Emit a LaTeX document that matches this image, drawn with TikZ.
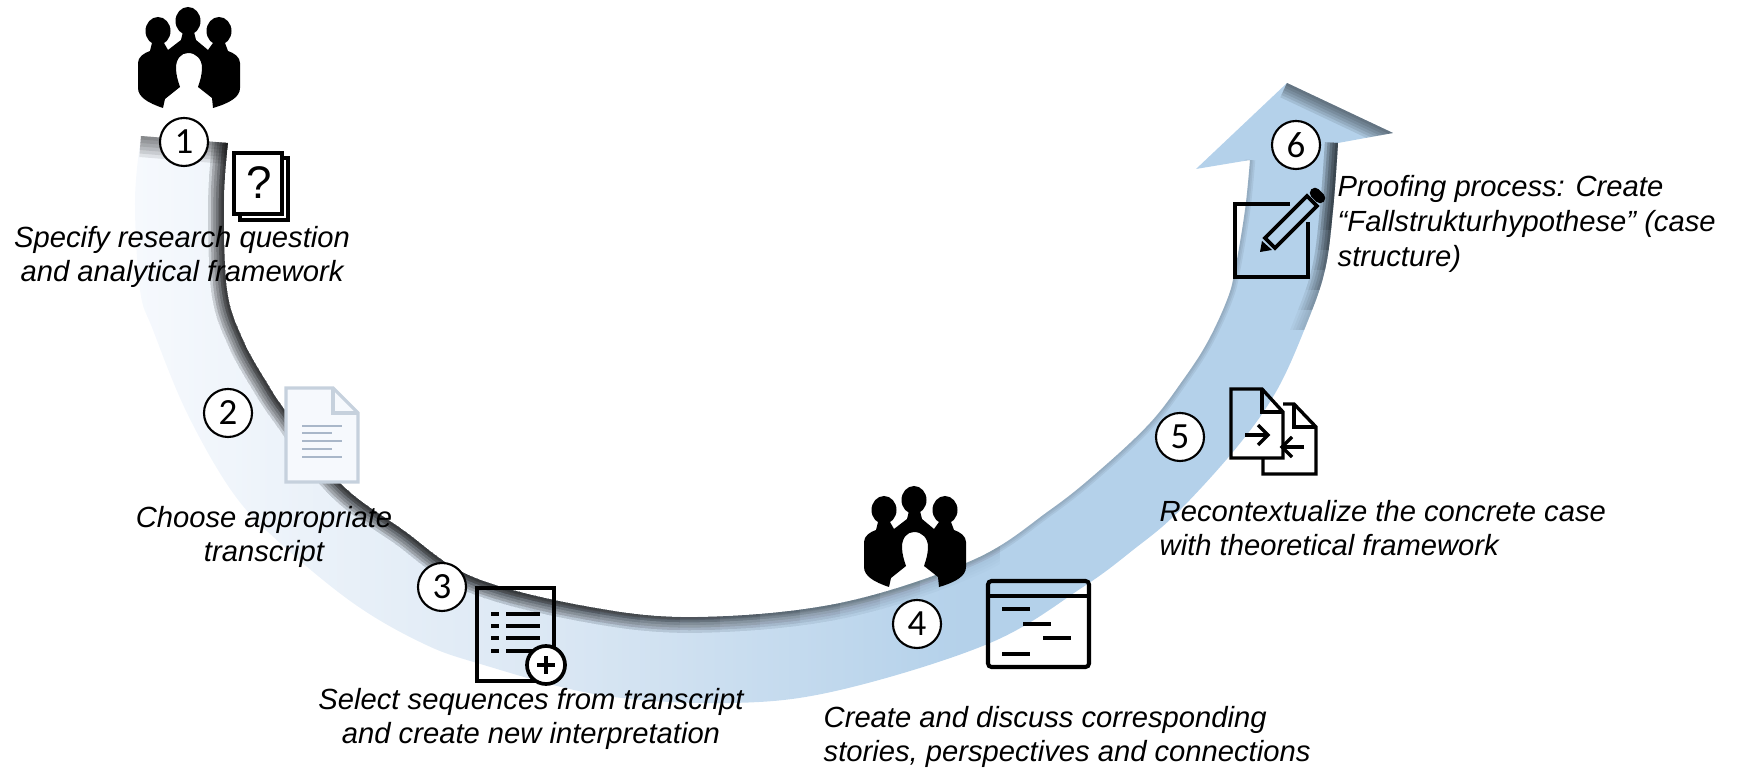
\documentclass[tikz,border=0pt]{standalone}
\usepackage{fontspec}
\setmainfont{Liberation Sans}
\newfontfamily\numfont{Carlito}
\definecolor{bandpale}{HTML}{F6F9FD}
\definecolor{bandmid}{HTML}{DCE8F4}
\definecolor{bandblue}{HTML}{B4D1EA}
\definecolor{pageline}{HTML}{C6D1DD}
\definecolor{pagetext}{HTML}{A9B7C9}
\pgfdeclarehorizontalshading{bandfade}{100bp}{color(0bp)=(bandpale); color(25bp)=(bandpale); color(41bp)=(bandmid); color(58bp)=(bandblue); color(100bp)=(bandblue)}
\newcommand{\outeredge}{plot[smooth,tension=.6] coordinates {(141,136) (135,200) (140,290) (153,330) (187,413) (233,493) (280,543) (353,603) (420,642) (477,663) (600,695) (731,703) (840,690) (990,643) (1083,587) (1133,550) (1177,513) (1237,447) (1277,390) (1307,323) (1325,270) (1333,210) (1338,143)}}
\newcommand{\inneredge}{-- (1250,160) -- plot[smooth,tension=.6] coordinates {(1250,160) (1245,210) (1235,270) (1227,300) (1207,343) (1183,380) (1150,423) (1100,470) (1050,510) (973,560) (840,603) (698,617) (590,607) (473,577) (403,530) (340,483) (287,413) (267,383) (243,340) (227,290) (224,200) (228,143)}}
\begin{document}
\begin{tikzpicture}[x=0.01cm,y=-0.01cm,
  stepnum/.style={circle, draw, fill=white, line width=.6pt, minimum size=0.48cm, inner sep=0pt, font=\numfont\fontsize{10.5}{12}\selectfont},
  caption/.style={inner sep=0pt, align=center, font=\itshape\fontsize{8.3}{9.9}\selectfont},
  iconline/.style={draw=black, line width=.95pt},
  shadowline/.style={draw=black, opacity=.06},
  pics/crowd/.style={code={
    \fill (50,14) ellipse [x radius=12.5, y radius=14];
    \fill (20,24) ellipse [x radius=12.5, y radius=14];
    \fill (81,24) ellipse [x radius=12.5, y radius=14];
    \fill (25,101) .. controls (10,96) and (0,90) .. (0,81) -- (0,56)
      .. controls (0,50) and (6,46) .. (12,44) -- (14,36) -- (26,36) -- (30,43) -- (43,33) -- (45,25) -- (56,25) -- (58,33) -- (70,43) -- (75,36) -- (87,36) -- (90,44)
      .. controls (96,46) and (102,50) .. (102,56) -- (102,81)
      .. controls (102,90) and (92,96) .. (75,101)
      -- (74,91) -- (60,80) .. controls (62,74) and (64,68) .. (64,61)
      .. controls (64,52) and (58,46) .. (50,46) .. controls (43,46) and (38,52) .. (38,61)
      .. controls (38,68) and (40,74) .. (42,80) -- (27,92) -- cycle;
  }}]
  \useasboundingbox (0,0) rectangle (1737,768);

  % band with its arrow head
  \path[shading=bandfade] \outeredge -- (1393,133) -- (1287,83) -- (1196,169) \inneredge -- cycle;
  \begin{scope}
    \clip \outeredge -- (1393,133) -- (1287,83) -- (1196,169) \inneredge -- cycle;
    \foreach \wd in {1,2,3} {
      \draw[shadowline, line width=\wd pt] (1250,160) \inneredge;
    }
    % inner edge, darker towards the left
    \foreach \xx in {520,560,...,1000} {
      \begin{scope}
        \clip (0,0) rectangle (\xx,768);
        \foreach \wd in {1.5,3,4.5,6,7.5,9} {
          \draw[draw=black, opacity=.012, line width=\wd pt] (1250,160) \inneredge;
        }
      \end{scope}
    }
    % shaft edge, fading downwards
    \foreach \yy in {230,250,...,330} {
      \begin{scope}
        \clip (1200,0) rectangle (1737,\yy);
        \foreach \wd in {1.5,3,4.5,6,7.5} {
          \draw[draw=black, opacity=.03, line width=\wd pt] \outeredge;
        }
      \end{scope}
    }
    \foreach \wd in {2,4,...,12} {
      \draw[draw=black, opacity=.09, line width=\wd pt] (141,136) -- (228,143);
    }
    \foreach \wd in {1.5,3,4.5,6,7.5,9} {
      \draw[draw=black, opacity=.09, line width=\wd pt] (1287,83) -- (1393,133);
    }
  \end{scope}

  % crowds
  \pic at (138,7) {crowd};
  \pic at (864,486) {crowd};

  % icon 1: question sheet
  \draw[iconline] (234,153) rectangle (282,214);
  \draw[iconline] (282,158) -- (288,158) -- (288,220) -- (240,220) -- (240,214);
  \node[inner sep=0pt, font=\fontsize{13}{14}\selectfont] (quest) at (259,183) {?};

  % icon 2: pale page
  \draw[draw=pageline, fill=bandpale, line width=.9pt] (286,388) -- (333,388) -- (358,413) -- (358,482) -- (286,482) -- cycle;
  \draw[draw=pageline, line width=.9pt] (333,388) -- (333,413) -- (358,413);
  \foreach \yy/\xx in {426/342,433/332,441/342,449/332,457/342} {
    \draw[draw=pagetext, line width=.6pt] (302,\yy) -- (\xx,\yy);
  }

  % icon 3: list with plus
  \draw[iconline, line width=1.05pt] (477,588) rectangle (554,681);
  \foreach \yy in {614,626,638,651} {
    \draw[line width=1.05pt] (491,\yy) -- (499,\yy);
    \draw[line width=1.05pt] (506,\yy) -- (540,\yy);
  }
  \node[circle, draw, fill=white, line width=1.05pt, minimum size=0.38cm, inner sep=0pt] (plus) at (546,665) {};
  \draw[line width=1.05pt] (537,665) -- (555,665);
  \draw[line width=1.05pt] (546,656) -- (546,674);

  % icon 4: window
  \draw[iconline, line width=1.15pt, rounded corners=1pt] (988,581) rectangle (1089,667);
  \draw[iconline, line width=1.15pt] (988,596) -- (1089,596);
  \foreach \xa/\xb/\yy in {1002/1030/609,1023/1051/624,1043/1071/638,1002/1030/654} {
    \draw[line width=.95pt] (\xa,\yy) -- (\xb,\yy);
  }

  % icon 5: two pages
  \draw[iconline] (1231,458) -- (1231,389) -- (1262,389) -- (1283,412) -- (1283,458) -- cycle;
  \draw[iconline] (1262,389) -- (1262,412) -- (1283,412);
  \draw[iconline] (1283,404) -- (1294,404) -- (1316,427) -- (1316,474) -- (1263,474) -- (1263,458);
  \draw[iconline] (1294,404) -- (1294,427) -- (1316,427);
  \draw[iconline] (1245,435) -- (1268,435);
  \draw[iconline] (1258,425) -- (1268,435) -- (1258,445);
  \draw[iconline] (1304,447) -- (1282,447);
  \draw[iconline] (1292,437) -- (1282,447) -- (1292,457);

  % icon 6: square and pencil
  \draw[iconline, line width=1.05pt] (1290,204) -- (1235,204) -- (1235,277) -- (1308,277) -- (1308,222);
  \draw[iconline, line width=1.05pt] (1265,238) -- (1307,196) -- (1317,206) -- (1275,248) -- cycle;
  \fill (1260,252) -- (1262,241) -- (1272,250) -- cycle;
  \draw[line width=3pt, line cap=round] (1315,193) -- (1320,198);

  % step numbers
  \node[stepnum] (n1) at (184,142) {1};
  \node[stepnum] (n2) at (228,413) {2};
  \node[stepnum] (n3) at (442,587) {3};
  \node[stepnum] (n4) at (917,624) {4};
  \node[stepnum] (n5) at (1180,437) {5};
  \node[stepnum] (n6) at (1296,145) {6};

  % captions
  \node[caption] (c1) at (182,257) {Specify research question\\and analytical framework};
  \node[caption] (c2) at (264,537) {Choose appropriate\\transcript};
  \node[caption] (c3) at (531,719) {Select sequences from transcript\\and create new interpretation};
  \node[caption, anchor=west, align=left] (c4) at (823,737) {Create and discuss corresponding\\stories, perspectives and connections};
  \node[caption, anchor=west, align=left] (c5) at (1159,528) {Recontextualize the concrete case\\with theoretical framework};
  \node[caption, anchor=west, align=left] (c6) at (1337,224) {Proofing process: Create\\“Fallstrukturhypothese” (case\\structure)};
\end{tikzpicture}
\end{document}
